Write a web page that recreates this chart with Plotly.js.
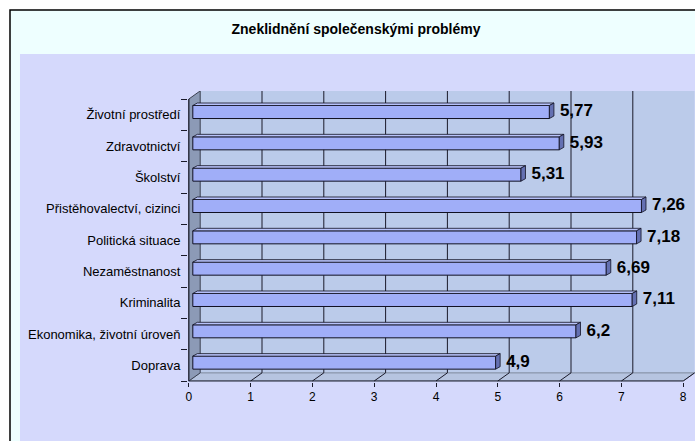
<!DOCTYPE html>
<html>
<head>
<meta charset="utf-8">
<script src="https://cdn.plot.ly/plotly-3.0.1.min.js"></script>
<style>html,body{margin:0;padding:0;background:#fff}#chart{width:695px;height:441px}</style>
</head>
<body>
<div id="chart"></div>
<script>
// ---- data (bottom to top, as plotted) ----
const categories = ["Doprava", "Ekonomika, životní úroveň", "Kriminalita", "Nezaměstnanost",
  "Politická situace", "Přistěhovalectví, cizinci", "Školství", "Zdravotnictví", "Životní prostředí"];
const values = [4.9, 6.2, 7.11, 6.69, 7.18, 7.26, 5.31, 5.93, 5.77];
const xTickVals = [0, 1, 2, 3, 4, 5, 6, 7, 8];
const xTickText = ["0", "1", "2", "3", "4", "5", "6", "7", "8"];
const titleText = "Zneklidnění společenskými problémy";

// ---- 3D look parameters (in axis units) ----
const wallDx = 0.1845, wallDy = 0.26;     // depth of walls/floor
const barFx = 0.065, barFy = 0.086;       // offset of bar front face
const barDx = 0.073, barDy = 0.08;        // bar depth
const barW = 0.415;
const labelOff = 0.17;

const idx = categories.map((_, i) => i);
const xMax = xTickVals[xTickVals.length - 1];
const nCat = categories.length;
const yTop = nCat - 0.5;

const font = "Arial, 'Liberation Sans', sans-serif";

// faces built from data
const topX = [], topY = [], endX = [], endY = [];
values.forEach((v, i) => {
  const yc = i + barFy, yt = yc + barW / 2, yb = yc - barW / 2;
  const x0 = barFx, x1 = barFx + v;
  topX.push(x0, x1, x1 + barDx, x0 + barDx, x0, null);
  topY.push(yt, yt, yt + barDy, yt + barDy, yt, null);
  endX.push(x1, x1, x1 + barDx, x1 + barDx, x1, null);
  endY.push(yb, yt, yt + barDy, yb + barDy, yb, null);
});

const traces = [
  {
    type: "bar", orientation: "h",
    x: values, y: idx.map(i => i + barFy), base: barFx, width: barW,
    marker: { color: "#A0AEF8", line: { color: "#111122", width: 1 } },
    hoverinfo: "skip"
  },
  {
    type: "scatter", mode: "lines", x: topX, y: topY, fill: "toself",
    fillcolor: "#B7C2FA", line: { color: "#111122", width: 0.8 }, hoverinfo: "skip"
  },
  {
    type: "scatter", mode: "lines", x: endX, y: endY, fill: "toself",
    fillcolor: "#6470B2", line: { color: "#111122", width: 0.8 }, hoverinfo: "skip"
  },
  {
    type: "scatter", mode: "text",
    x: values.map(v => v + barFx + labelOff), y: idx.map(i => i + barFy),
    text: values.map(v => String(v).replace(".", ",")),
    textposition: "middle right", cliponaxis: false,
    textfont: { family: font, size: 17, color: "#000", weight: "bold" },
    hoverinfo: "skip"
  }
];

// decorative walls / floor / grid
const shapes = [
  { type: "rect", xref: "paper", yref: "paper", x0: 10 / 695, x1: 1.05, y0: -0.05, y1: 1 - 10 / 441,
    fillcolor: "#EEFFFF", line: { color: "#000", width: 1.5 }, layer: "below" },
  { type: "rect", xref: "paper", yref: "paper", x0: 20 / 695, x1: 1.05, y0: -0.05, y1: 1 - 54 / 441,
    fillcolor: "#D5D9FC", line: { width: 0 }, layer: "below" },
  // back wall
  { type: "rect", xref: "x", yref: "y", x0: wallDx, x1: xMax + wallDx, y0: -0.5 + wallDy, y1: yTop + wallDy,
    fillcolor: "#BBCBEA", line: { width: 0 }, layer: "below" },
  // floor
  { type: "path", xref: "x", yref: "y",
    path: `M0,-0.5 L${xMax},-0.5 L${xMax + wallDx},${-0.5 + wallDy} L${wallDx},${-0.5 + wallDy} Z`,
    fillcolor: "#B6C4E0", line: { color: "#7C889C", width: 1 }, layer: "below" },
  // left wall
  { type: "path", xref: "x", yref: "y",
    path: `M0,-0.5 L0,${yTop} L${wallDx},${yTop + wallDy} L${wallDx},${-0.5 + wallDy} Z`,
    fillcolor: "#8C9AB6", line: { color: "#3A4050", width: 1 }, layer: "below" }
];
xTickVals.forEach(k => {
  if (k > 0 && k < xMax) {
    shapes.push({ type: "line", xref: "x", yref: "y", x0: k + wallDx, x1: k + wallDx,
      y0: -0.5 + wallDy, y1: yTop + wallDy, line: { color: "#1A1A2A", width: 1 }, layer: "below" });
  }
  if (k > 0) {
    shapes.push({ type: "line", xref: "x", yref: "y", x0: k, x1: k + wallDx,
      y0: -0.5, y1: -0.5 + wallDy, line: { color: "#1A1A2A", width: 1 }, layer: "below" });
  }
});
// floor front edge & left wall front edge
shapes.push({ type: "line", xref: "x", yref: "y", x0: 0, x1: xMax, y0: -0.5, y1: -0.5,
  line: { color: "#1A1A2A", width: 1 } , layer: "below"});
shapes.push({ type: "line", xref: "x", yref: "y", x0: 0, x1: 0, y0: -0.5, y1: yTop,
  line: { color: "#1A1A2A", width: 1 }, layer: "below" });

const layout = {
  width: 695, height: 441,
  margin: { l: 0, r: 0, t: 0, b: 0 },
  paper_bgcolor: "#FFFFFF", plot_bgcolor: "rgba(0,0,0,0)",
  showlegend: false,
  title: { text: titleText, x: 356 / 695, xanchor: "center", y: 1 - 29 / 441, yanchor: "middle",
    xref: "paper", yref: "container",
    font: { family: font, size: 14, color: "#000", weight: "bold" } },
  xaxis: {
    domain: [188.06 / 695, 1], range: [-0.012, 8.191],
    tickmode: "array", tickvals: xTickVals, ticktext: xTickText,
    ticks: "outside", ticklen: 4, tickcolor: "#1A1A2A", tickwidth: 1,
    showgrid: false, zeroline: false, showline: false,
    tickfont: { family: font, size: 12, color: "#000" }, fixedrange: true
  },
  yaxis: {
    domain: [1 - 381.63 / 441, 1 - 90.9 / 441], range: [-0.52, 8.76],
    tickmode: "array", tickvals: idx, ticktext: categories,
    ticks: "outside", ticklen: 4, tickcolor: "rgba(0,0,0,0)",
    minor: { tickmode: "array", tickvals: idx.map(i => i - 0.5).concat([yTop]),
      ticks: "outside", ticklen: 6, tickcolor: "#1A1A2A", tickwidth: 1, showgrid: false },
    showgrid: false, zeroline: false, showline: false,
    tickfont: { family: font, size: 13, color: "#000" }, fixedrange: true
  },
  shapes: shapes
};

Plotly.newPlot("chart", traces, layout, { displayModeBar: false, staticPlot: true });
</script>
</body>
</html>
